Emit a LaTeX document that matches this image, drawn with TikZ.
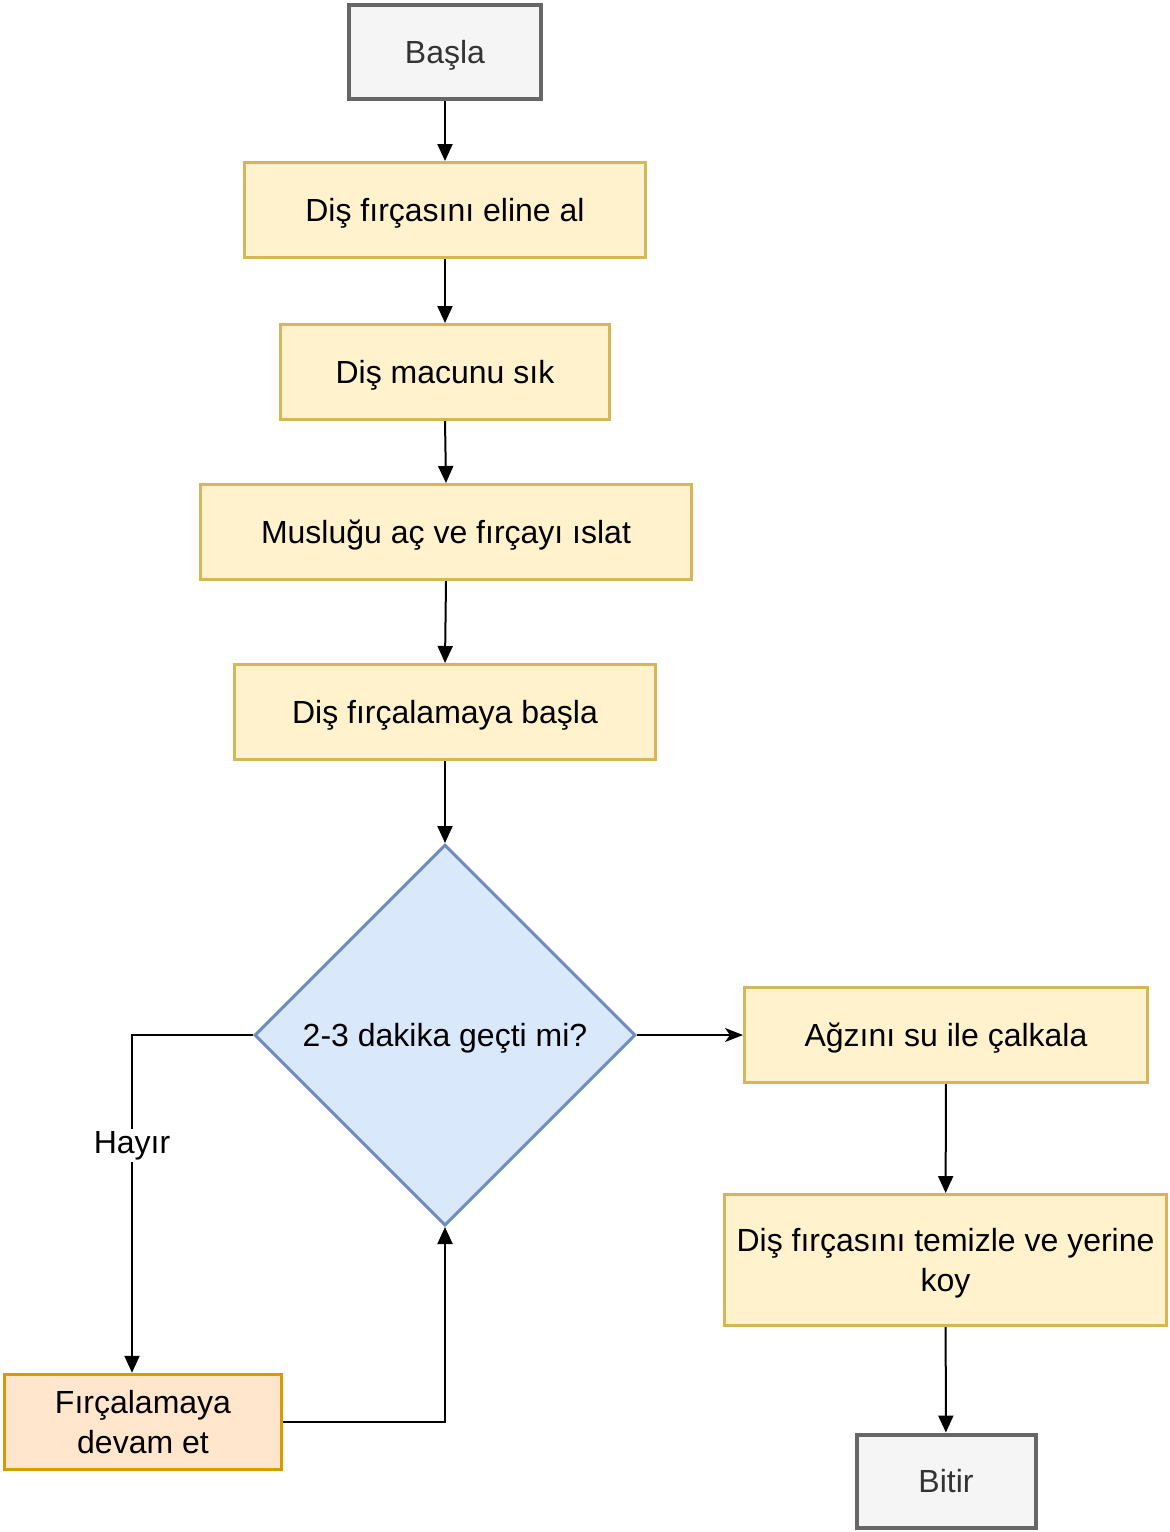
\documentclass[tikz,border=0pt]{standalone}
\usepackage{fontspec}
\setmainfont{Liberation Sans}
\usetikzlibrary{positioning, arrows.meta, shapes}
\definecolor{sariic}{HTML}{FFF2CC}
\definecolor{sarikenar}{HTML}{D6B656}
\definecolor{griic}{HTML}{F5F5F5}
\definecolor{grikenar}{HTML}{666666}
\definecolor{griyazi}{HTML}{333333}
\definecolor{maviic}{HTML}{DAE8FC}
\definecolor{mavikenar}{HTML}{6C8EBF}
\definecolor{turuncuic}{HTML}{FFE6CC}
\definecolor{turuncukenar}{HTML}{D79B00}

\tikzset{
    yazi/.style={font=\fontsize{32}{40}\selectfont, align=center, inner sep=0pt},
    adim/.style={yazi, text depth=0pt, rectangle, fill=sariic, draw=sarikenar, line width=3pt, minimum height=95pt},
    uc/.style={yazi, text depth=0pt, rectangle, fill=griic, draw=grikenar, text=griyazi, line width=4pt, minimum height=94pt},
    karar/.style={yazi, text depth=0pt, diamond, aspect=1, fill=maviic, draw=mavikenar, line width=3pt, minimum width=381pt, minimum height=381pt},
    ok/.style={-{Triangle[length=17pt, width=15pt]}, line width=2pt},
}

\begin{document}
\begin{tikzpicture}[x=1pt, y=-1pt]
            \useasboundingbox (0,0) rectangle (1170,1532);

            % Ana akış
            \node[uc, minimum width=192pt] (basla) at (445,52) {Başla};
            \node[adim, minimum width=401pt] (elinealal) at (445,210) {Diş fırçasını eline al};
            \node[adim, minimum width=329pt] (macun) at (445,372) {Diş macunu sık};
            \node[adim, minimum width=491pt] (musluk) at (446,532) {Musluğu aç ve fırçayı ıslat};
            \node[adim, minimum width=421pt] (fircala) at (445,712) {Diş fırçalamaya başla};
            \node[karar] (karar) at (445,1035) {2-3 dakika geçti mi?};

            % Evet dalı (sağ)
            \node[adim, minimum width=403pt] (calkala) at (946,1035) {Ağzını su ile çalkala};
            \node[adim, minimum width=442pt, minimum height=131pt] (temizle) at (945.5,1260) {Diş fırçasını temizle ve yerine\\koy};
            \node[uc, minimum width=179pt, minimum height=93pt] (bitir) at (946,1481) {Bitir};

            % Hayır dalı (sol)
            \node[adim, fill=turuncuic, draw=turuncukenar, line width=3.5pt, minimum width=277pt] (devam) at (143,1422) {Fırçalamaya\\devam et};

            % Oklar
            \draw[ok] (basla) -- (elinealal);
            \draw[ok] (elinealal) -- (macun);
            \draw[ok] (macun.south) -- (musluk.north);
            \draw[ok] (musluk.south) -- (fircala.north);
            \draw[ok] (fircala) -- (karar);
            \draw[-{Stealth[length=18pt, width=14pt, inset=5pt]}, line width=2pt] (karar.east) -- (calkala.west);
            \draw[ok] (calkala) -- (temizle);
            \draw[ok] (temizle) -- (bitir);
            \draw[ok] (karar.west) -| node[pos=0.664, yazi, fill=white, inner sep=2pt] (hayir) {Hayır} ([xshift=-11pt]devam.north);
            \draw[ok] (devam.east) -| (karar.south);
        \end{tikzpicture}
\end{document}
